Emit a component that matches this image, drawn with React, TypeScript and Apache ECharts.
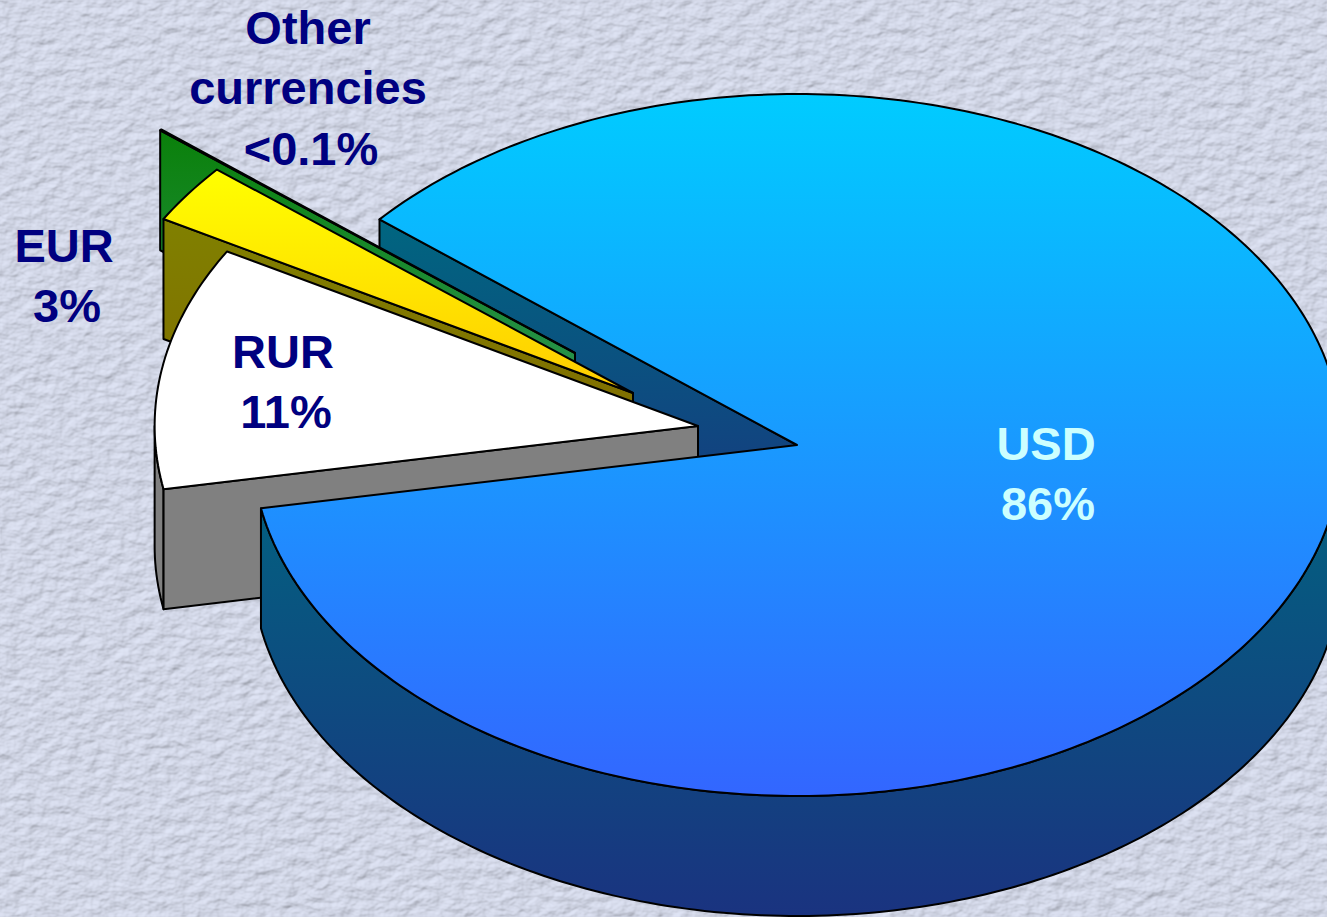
import React, { useEffect, useRef } from "react";
import * as echarts from "echarts";

// Data
const categories = ["USD", "RUR", "EUR", "Other currencies"];
const shares = [86, 11.2, 2.75, 0.05];
const labelLines = [["USD", "86%"], ["RUR", "11%"], ["EUR", "3%"], ["Other", "currencies", "<0.1%"]];

// Layout of the pseudo-3D pie
const CX = 797;
const CY = 445;
const RX = 545;
const RY = 351;
const DEPTH = 120;
const START_ANGLE = 140;
const LINE_PITCH = 60.5;
const explode: [number, number][] = [[0, 0], [-99, -19], [-164, -52], [-222, -92]];
const radiusScale = [1, 0.997, 0.994, 0.991];
const paintOrder = [40, 30, 20, 10];
const labelPos: [number, number][] = [[1046, 443], [283, 351], [64, 245], [308, 27]];
const lineShift = [[0, 2], [0, 3], [0, 3], [0, 0, 3]];
const labelColor = ["#CCFFFF", "#000080", "#000080", "#000080"];
const topColors: [string, string][] = [["#00CCFF", "#3366FF"], ["#FFFFFF", "#FFFFFF"], ["#FFFF00", "#FFCC00"], ["#00A000", "#33CC66"]];
const sideColors: [string, string][] = [["#006680", "#1A3380"], ["#808080", "#808080"], ["#808000", "#806600"], ["#0A800A", "#339966"]];

const TOTAL = shares.reduce((a, b) => a + b, 0);

function pt(cx: number, cy: number, deg: number, dy = 0, s = 1): number[] {
  const r = (deg * Math.PI) / 180;
  return [cx + RX * s * Math.cos(r), cy - RY * s * Math.sin(r) + dy];
}
function arc(cx: number, cy: number, from: number, to: number, dy = 0, s = 1): number[][] {
  const n = Math.max(1, Math.ceil(Math.abs(to - from)));
  const out: number[][] = [];
  for (let i = 0; i <= n; i++) out.push(pt(cx, cy, from + ((to - from) * i) / n, dy, s));
  return out;
}
function vGrad(y0: number, y1: number, c: [string, string]) {
  return new echarts.graphic.LinearGradient(
    0, y0, 0, y1,
    [{ offset: 0, color: c[0] }, { offset: 1, color: c[1] }],
    true
  );
}
function boxGrad(pts: number[][], c: [string, string]) {
  const ys = pts.map((p) => p[1]);
  return vGrad(Math.min(...ys), Math.max(...ys), c);
}
const LINE = { stroke: "#000000", lineWidth: 2, lineJoin: "round" };

function poly(points: number[][], fill: any, z2: number) {
  return { type: "polygon", z2, silent: true, shape: { points }, style: { fill, ...LINE } };
}

function renderSlice(params: any, api: any) {
  const i = params.dataIndex;
  let before = 0;
  for (let k = 0; k < i; k++) before += shares[k];
  const sweep = (api.value(0) / TOTAL) * 360;
  const a0 = START_ANGLE - (before / TOTAL) * 360;
  const a1 = a0 - sweep;
  const cx = CX + explode[i][0];
  const cy = CY + explode[i][1];
  const s = radiusScale[i];
  const z = paintOrder[i];
  const children: any[] = [];

  if (i === 0) {
    // USD: cut-face at the start angle, then the front rim down to the right end
    const o0 = pt(cx, cy, a0);
    const wall = [[cx, cy], o0, [o0[0], o0[1] + DEPTH], [cx, cy + DEPTH]];
    children.push(poly(wall, boxGrad(wall, sideColors[0]), 0));
    const rim = arc(cx, cy, a1, 0).concat(arc(cx, cy, 0, a1, DEPTH));
    children.push(poly(rim, vGrad(CY, CY + RY + DEPTH, sideColors[0]), z));
  } else {
    // Exploded slices: a part of the rim on the front half, then the face towards the viewer
    if (a0 < 0 && a0 > -180) {
      const rim = arc(cx, cy, a0, -180, 0, s).concat(arc(cx, cy, -180, a0, DEPTH, s));
      children.push(poly(rim, boxGrad(rim, sideColors[i]), z));
    }
    const o0 = pt(cx, cy, a0, 0, s);
    const wall = [[cx, cy], o0, [o0[0], o0[1] + DEPTH], [cx, cy + DEPTH]];
    children.push(poly(wall, boxGrad(wall, sideColors[i]), z));
  }

  // Top face
  const face = [[cx, cy] as number[]].concat(arc(cx, cy, a0, a1, 0, s));
  children.push(poly(face, boxGrad(face, topColors[i]), z + 1));

  // Label, one text per line
  labelLines[i].forEach((line, k) => {
    children.push({
      type: "text", z2: 100, silent: true,
      x: labelPos[i][0] + lineShift[i][k],
      y: labelPos[i][1] + k * LINE_PITCH,
      style: {
        text: line, fill: labelColor[i], align: "center", verticalAlign: "middle",
        font: "bold 47px 'Liberation Sans', Arial, sans-serif",
      },
    });
  });
  return { type: "group", children };
}

const texture =
  "data:image/svg+xml;utf8," +
  encodeURIComponent(
    `<svg xmlns='http://www.w3.org/2000/svg' width='1327' height='917'><filter id='s' x='0' y='0' width='100%' height='100%'><feTurbulence type='fractalNoise' baseFrequency='0.065 0.095' numOctaves='3' seed='7' result='n'/><feDiffuseLighting in='n' surfaceScale='1.9' diffuseConstant='1.12' lighting-color='#d5daea'><feDistantLight azimuth='235' elevation='58'/></feDiffuseLighting><feGaussianBlur stdDeviation='0.7'/></filter><rect width='1327' height='917' filter='url(#s)'/></svg>`
  );

export default function App() {
  const ref = useRef<HTMLDivElement>(null);
  useEffect(() => {
    if (!ref.current) return;
    const chart = echarts.init(ref.current, undefined, { renderer: "svg" });
    chart.setOption({
      animation: false,
      backgroundColor: "transparent",
      series: [
        {
          type: "custom",
          coordinateSystem: "none",
          silent: true,
          renderItem: renderSlice,
          data: shares.map((v, i) => ({ name: categories[i], value: [v] })),
        },
      ],
    });
    return () => chart.dispose();
  }, []);
  return (
    <div style={{ position: "fixed", left: 0, top: 0, width: 1327, height: 917, overflow: "hidden", backgroundColor: "#ccd2e2", backgroundImage: `url("${texture}")` }}>
      <div ref={ref} style={{ width: 1327, height: 917 }} />
    </div>
  );
}
